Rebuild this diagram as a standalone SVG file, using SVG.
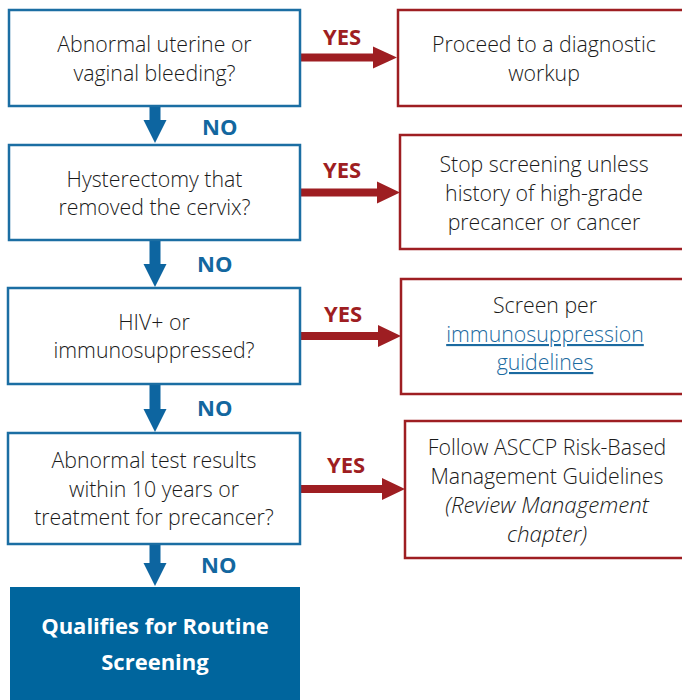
<svg xmlns="http://www.w3.org/2000/svg" width="682" height="700" viewBox="0 0 682 700">
<style>
.q{fill:#fff;stroke:#1B6EA3;stroke-width:2.5}
.r{fill:#fff;stroke:#9E1E22;stroke-width:2.5}
.t{font-family:"Open Sans","Liberation Sans",sans-serif;font-size:21.3px;font-weight:300;fill:#1a1a1a;text-anchor:middle}
.i{font-style:italic;font-size:22.3px}
.lk{fill:#1B6AA0;text-decoration:underline}
.yes{font-family:"Open Sans","Liberation Sans",sans-serif;font-size:22px;font-weight:bold;fill:#9E1E22}
.no{font-family:"Open Sans","Liberation Sans",sans-serif;font-size:22px;font-weight:bold;fill:#13679F}
.fin{font-family:"Open Sans","Liberation Sans",sans-serif;font-size:22px;font-weight:bold;fill:#fff;text-anchor:middle}
.ba{fill:#0D65A0}
.ra{fill:#9E1E22}
</style>

<g id="connectors">
  <path class="ba" d="M149.5 106 H160.5 V120 H166.5 L155 143 L143.5 120 H149.5 Z"/>
  <path class="ba" d="M149.5 240 H160.5 V264 H166.5 L155 287 L143.5 264 H149.5 Z"/>
  <path class="ba" d="M149.5 384 H160.5 V409 H166.5 L155 432 L143.5 409 H149.5 Z"/>
  <path class="ba" d="M149.5 544 H160.5 V563 H166.5 L155 586 L143.5 563 H149.5 Z"/>
  <path class="ra" d="M300 53.5 H373 V46.5 L397 57.5 L373 68.5 V61.5 H300 Z"/>
  <path class="ra" d="M300 188.5 H377 V181.5 L400 192.5 L377 203.5 V196.5 H300 Z"/>
  <path class="ra" d="M300 332 H378 V325 L401 336 L378 347 V340 H300 Z"/>
  <path class="ra" d="M300 485 H382 V478 L405 489 L382 500 V493 H300 Z"/>
  <text class="no" x="202" y="135">NO</text>
  <text class="no" x="197" y="272">NO</text>
  <text class="no" x="197" y="416">NO</text>
  <text class="no" x="201" y="573">NO</text>
  <text class="yes" x="323" y="45">YES</text>
  <text class="yes" x="323" y="178">YES</text>
  <text class="yes" x="324" y="322">YES</text>
  <text class="yes" x="327" y="473">YES</text>
</g>

<g id="q1">
  <rect class="q" x="9" y="10" width="291" height="96"/>
  <text class="t" x="154.5" y="52">Abnormal uterine or</text>
  <text class="t" x="154.5" y="81">vaginal bleeding?</text>
</g>
<g id="a1">
  <rect class="r" x="398" y="10" width="292" height="96"/>
  <text class="t" x="544" y="52">Proceed to a diagnostic</text>
  <text class="t" x="544" y="81">workup</text>
</g>

<g id="q2">
  <rect class="q" x="9" y="145" width="291" height="95"/>
  <text class="t" x="154.5" y="187">Hysterectomy that</text>
  <text class="t" x="154.5" y="215">removed the cervix?</text>
</g>
<g id="a2">
  <rect class="r" x="400" y="135" width="292" height="114"/>
  <text class="t" x="544" y="172">Stop screening unless</text>
  <text class="t" x="544" y="201">history of high-grade</text>
  <text class="t" x="544" y="230">precancer or cancer</text>
</g>

<g id="q3">
  <rect class="q" x="8" y="288" width="292" height="96"/>
  <text class="t" x="154" y="330">HIV+ or</text>
  <text class="t" x="154" y="358">immunosuppressed?</text>
</g>
<g id="a3">
  <rect class="r" x="401" y="279" width="292" height="115"/>
  <text class="t" x="545" y="313">Screen per</text>
  <text class="t lk" x="545" y="342">immunosuppression</text>
  <text class="t lk" x="545" y="370">guidelines</text>
</g>

<g id="q4">
  <rect class="q" x="8" y="433" width="292" height="111"/>
  <text class="t" x="154" y="468">Abnormal test results</text>
  <text class="t" x="154" y="497">within 10 years or</text>
  <text class="t" x="154" y="525">treatment for precancer?</text>
</g>
<g id="a4">
  <rect class="r" x="405" y="421" width="292" height="137"/>
  <text class="t" x="547" y="455">Follow ASCCP Risk-Based</text>
  <text class="t" x="547" y="484">Management Guidelines</text>
  <text class="t i" x="547" y="513">(Review Management</text>
  <text class="t i" x="547" y="542">chapter)</text>
</g>

<g id="routine">
  <rect x="10" y="587" width="290" height="120" fill="#00659D"/>
  <text class="fin" x="155" y="634">Qualifies for Routine</text>
  <text class="fin" x="155" y="670">Screening</text>
</g>
</svg>
